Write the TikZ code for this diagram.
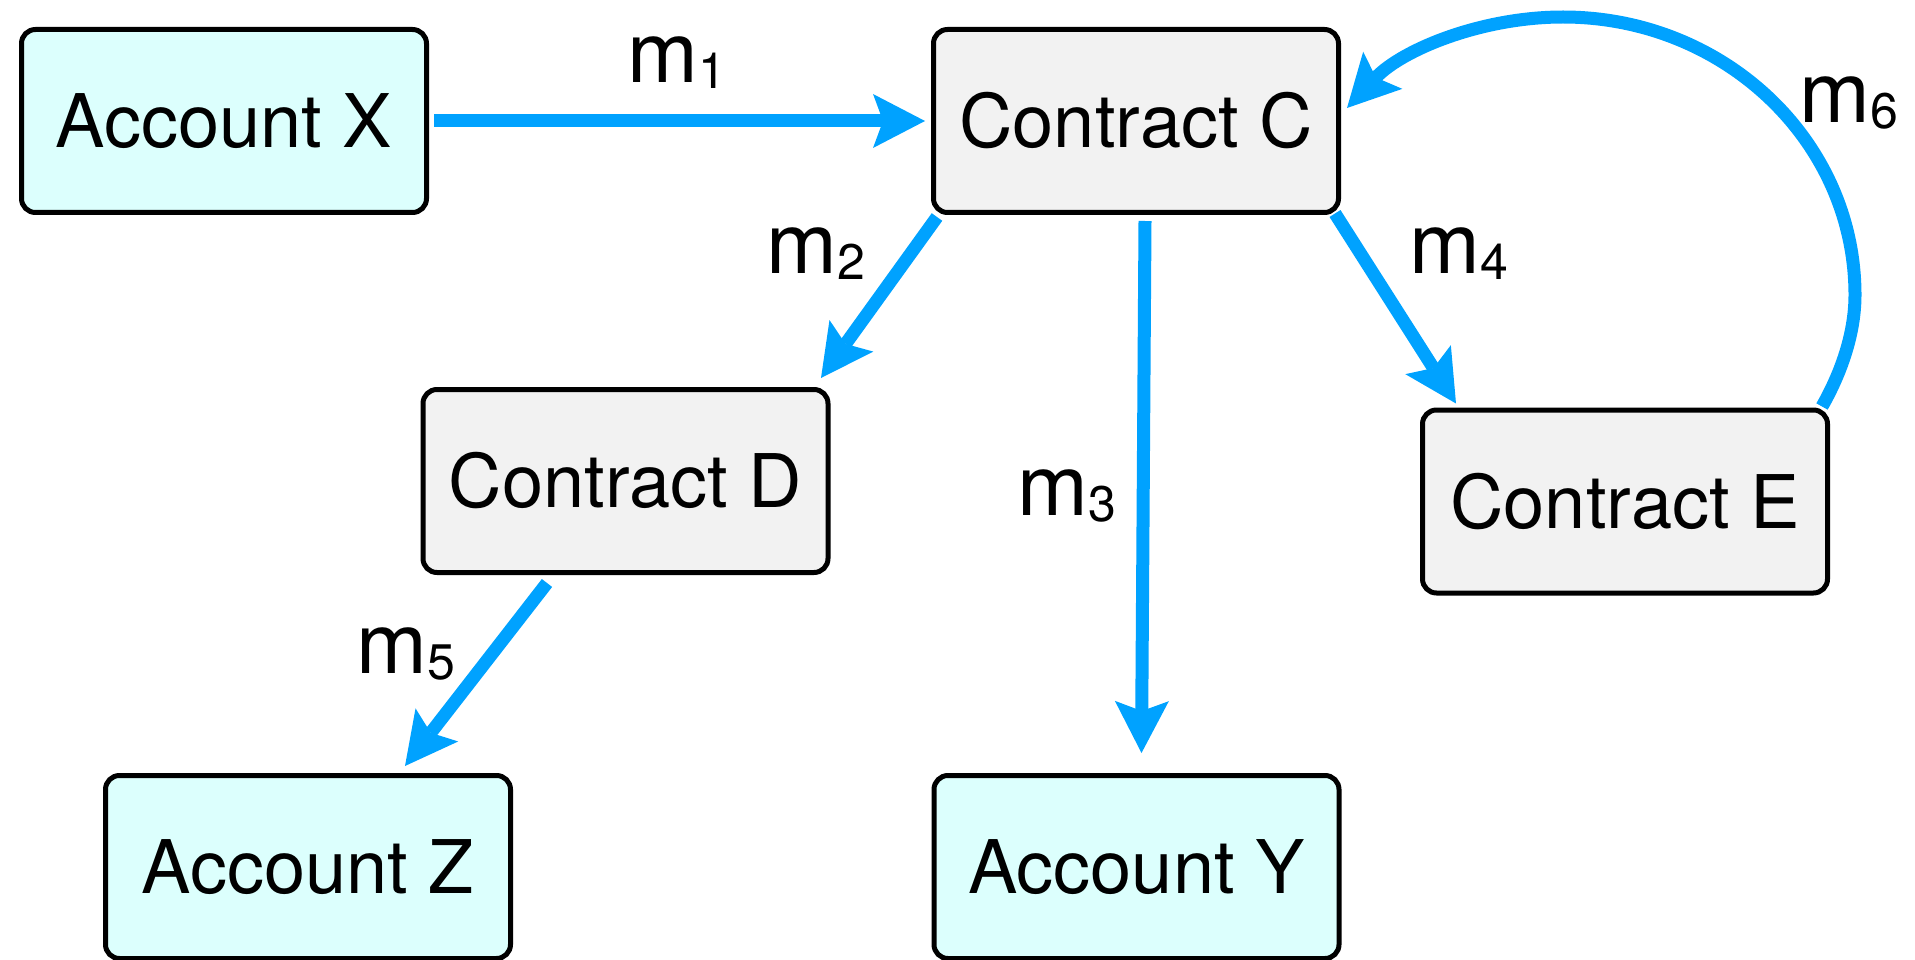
\documentclass[tikz,border=0pt]{standalone}
\usepackage{fontspec}
\setmainfont{TeX Gyre Heros}
\usetikzlibrary{arrows.meta}
\definecolor{msgblue}{RGB}{0,162,255}
\definecolor{acctfill}{RGB}{220,255,253}
\definecolor{ctrfill}{RGB}{242,242,242}
\newcommand\mlabel[1]{m\raisebox{-6pt}{\fontsize{50}{52}\selectfont #1}}
\begin{document}
\begin{tikzpicture}[x=1pt,y=-1pt,
  box/.style={draw=black, line width=5pt, rounded corners=14pt, minimum width=405pt, minimum height=183pt, inner sep=0pt, font=\fontsize{74}{80}\selectfont},
  acct/.style={box, fill=acctfill},
  ctr/.style={box, fill=ctrfill},
  msg/.style={draw=msgblue, line width=13pt, -{Stealth[length=52pt,width=54pt,inset=10pt,line width=0pt]}},
  lbl/.style={anchor=base west, inner sep=0pt, font=\fontsize{85}{90}\selectfont}]
\useasboundingbox (0,0) rectangle (1915,960);

\node[acct] (X) at (224,121) {Account X};
\node[ctr] (C) at (1136,121) {Contract C};
\node[ctr] (D) at (625.5,481) {Contract D};
\node[ctr] (E) at (1625,501.5) {Contract E};
\node[acct] (Z) at (308,867) {Account Z};
\node[acct] (Y) at (1136.5,867) {Account Y};

\draw[msg, shorten <=5pt, shorten >=6pt] (X.east) -- (C.west);
\draw[msg] ([shift={(6,2)}]C.south west) -- ([shift={(-9.5,-9)}]D.north east);
\draw[msg] ([shift={(9,6)}]C.south) -- ([shift={(5,-20)}]Y.north);
\draw[msg] ([shift={(-6,-1.5)}]C.south east) -- ([shift={(36,-4)}]E.north west);
\draw[msg] ([shift={(-78.5,8)}]D.south) -- ([shift={(97,-7)}]Z.north);
\draw[msg] ([shift={(-8,-1)}]E.north east) .. controls (1840,375) and (1855,335) .. (1855,295)
  .. controls (1855,141) and (1724,17) .. (1563,17)
  .. controls (1481,17) and (1402,50) .. ([shift={(6,-13)}]C.east);

\node[lbl] (l1) at (627,83) {\mlabel{1}};
\node[lbl] (l2) at (766,273) {\mlabel{2}};
\node[lbl] (l3) at (1017,515) {\mlabel{3}};
\node[lbl] (l4) at (1409,273) {\mlabel{4}};
\node[lbl] (l5) at (356,673) {\mlabel{5}};
\node[lbl] (l6) at (1799,123) {\mlabel{6}};
\end{tikzpicture}
\end{document}
